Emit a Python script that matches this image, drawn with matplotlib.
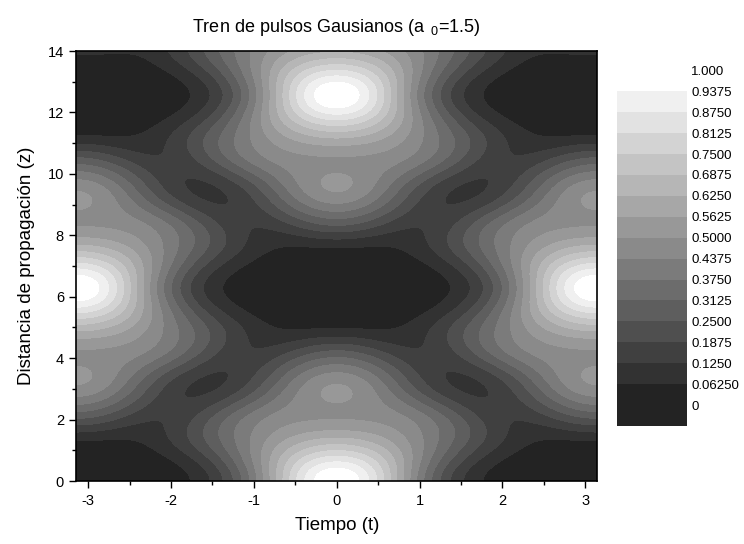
import numpy as np
import matplotlib
matplotlib.use("Agg")
import matplotlib.pyplot as plt
from matplotlib.colors import ListedColormap, BoundaryNorm

# ---- data / model parameters ----
a0 = 1.5                      # Gaussian pulse width parameter
n_harmonics = 8               # Fourier harmonics of the pulse train
t_range = [-np.pi, np.pi]
z_range = [0.0, 14.0]
levels = [0, 0.0625, 0.125, 0.1875, 0.25, 0.3125, 0.375, 0.4375, 0.5,
          0.5625, 0.625, 0.6875, 0.75, 0.8125, 0.875, 0.9375, 1.0]
level_labels = ['0', '0.06250', '0.1250', '0.1875', '0.2500', '0.3125',
                '0.3750', '0.4375', '0.5000', '0.5625', '0.6250', '0.6875',
                '0.7500', '0.8125', '0.8750', '0.9375', '1.000']
gray_values = [35, 50, 64, 79, 94, 108, 123, 138, 152, 167, 182, 196,
               211, 226, 240, 255]
x_ticks = [-3, -2, -1, 0, 1, 2, 3]
y_ticks = [0, 2, 4, 6, 8, 10, 12, 14]

# ---- field: periodic Gaussian pulse train under dispersion ----
t = np.linspace(t_range[0], t_range[1], 500)
z = np.linspace(z_range[0], z_range[1], 500)
T, Z = np.meshgrid(t, z)
n = np.arange(-n_harmonics, n_harmonics + 1)
c = np.exp(-(n ** 2) * a0 ** 2 / 4.0)
U = np.zeros_like(T, dtype=complex)
for nk, ck in zip(n, c):
    U += ck * np.exp(1j * nk * T - 1j * nk ** 2 * Z / 2.0)
I = np.abs(U) ** 2
I = I / I.max()
I = np.clip(I, 0, 1.0)

colors = [(g / 255, g / 255, g / 255) for g in gray_values]
cmap = ListedColormap(colors)
cmap.set_under(colors[0])
norm = BoundaryNorm(levels, cmap.N)

plt.rcParams['font.family'] = ['Liberation Sans', 'DejaVu Sans']
plt.rcParams['mathtext.fontset'] = 'custom'
plt.rcParams['mathtext.rm'] = 'Liberation Sans'
plt.rcParams['mathtext.it'] = 'Liberation Sans'

fig = plt.figure(figsize=(7.44, 5.44), dpi=100)
ax = fig.add_axes([0.1028, 0.1158, 0.6996, 0.7904])
cs = ax.contourf(T, Z, I, levels=levels, cmap=cmap, norm=norm, extend='min')

ax.set_xlim(t_range)
ax.set_ylim(z_range)
ax.set_xticks(x_ticks)
ax.set_xticklabels([str(v) for v in x_ticks])
ax.set_xticks(np.array(x_ticks[:-1]) + 0.5, minor=True)
ax.set_yticks(y_ticks)
ax.set_yticks(np.array(y_ticks[:-1]) + 1, minor=True)
ax.tick_params(which='major', direction='out', length=5, width=1.0,
               labelsize=10.5, top=False, right=False, pad=4)
ax.tick_params(which='minor', direction='out', length=3, width=1.0,
               top=False, right=False)
for sp in ax.spines.values():
    sp.set_linewidth(1.2)

ax.set_xlabel('Tiempo (t)', fontsize=13.5, labelpad=7)
ax.set_ylabel('Distancia de propagación (z)', fontsize=13.5, labelpad=9)
ax.set_title(r'Tren de pulsos Gausianos (a $\,_{0}$=1.5)', fontsize=13, pad=14)

cax = fig.add_axes([0.8293, 0.2169, 0.0941, 0.6537])
cb = fig.colorbar(cs, cax=cax, extend='min', extendfrac=1 / 16,
                  extendrect=True, ticks=levels)
cb.outline.set_visible(False)
cb.ax.set_yticklabels(level_labels)
cb.ax.tick_params(length=0, labelsize=9.5, pad=3)

fig.savefig('out.png', dpi=100)
